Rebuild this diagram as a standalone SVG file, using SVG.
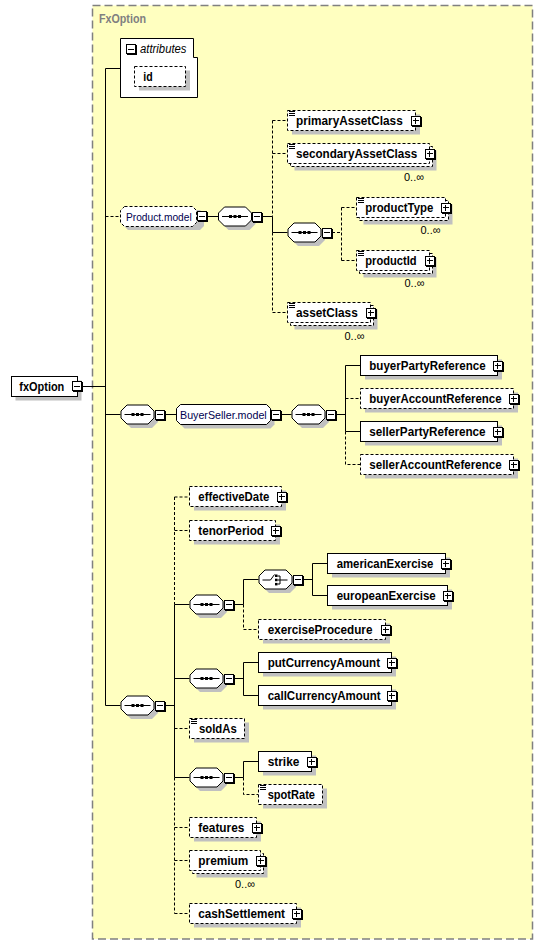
<svg xmlns="http://www.w3.org/2000/svg" xmlns:xlink="http://www.w3.org/1999/xlink" width="543" height="945" viewBox="0 0 543 945">
<style>
.box{fill:#fff;stroke:#000;stroke-width:1}
.dbox{fill:#fff;stroke:#000;stroke-width:1;stroke-dasharray:3,2}
.sh{fill:#c0c0c0;stroke:none}
.ln{stroke:#000;stroke-width:1;fill:none}
.dl{stroke:#000;stroke-width:1;fill:none;stroke-dasharray:3,2}
text{font-family:"Liberation Sans",Arial,sans-serif}
.t{font-size:12px;font-weight:bold;fill:#000}
.m{font-size:11.5px;fill:#000050}
.it{font-size:12px;font-style:italic;fill:#000}
.occ{font-size:11.5px;fill:#000}
.title{font-size:12px;font-weight:bold;fill:#808080}
</style>
<defs>
<g id="plus" shape-rendering="crispEdges">
<rect x="0.5" y="0.5" width="9" height="9" fill="#fff" stroke="#000"/>
<path d="M10.5,1V10.5H1" stroke="#000" fill="none"/>
<path d="M2,5H8M5,2V8" stroke="#000" fill="none"/>
</g>
<g id="minus" shape-rendering="crispEdges">
<rect x="0.5" y="0.5" width="9" height="9" fill="#fff" stroke="#000"/>
<path d="M10.5,1V10.5H1" stroke="#000" fill="none"/>
<path d="M2,5H8" stroke="#000" fill="none"/>
</g>
<path id="oct" d="M6.5,0.5H27.5L33.5,6.5V13.5L27.5,19.5H6.5L0.5,13.5V6.5Z"/>
<g id="seq">
<use xlink:href="#oct" x="4" y="4" fill="#c0c0c0"/>
<use xlink:href="#oct" fill="#fff" stroke="#000"/>
<path d="M4,10H30" stroke="#000" fill="none"/>
<rect x="11" y="8.5" width="3" height="3" fill="#000"/>
<rect x="15.5" y="8.5" width="3" height="3" fill="#000"/>
<rect x="20" y="8.5" width="3" height="3" fill="#000"/>
<use xlink:href="#minus" x="34" y="5"/>
</g>
<g id="choice">
<use xlink:href="#oct" x="4" y="4" fill="#c0c0c0"/>
<use xlink:href="#oct" fill="#fff" stroke="#000"/>
<path d="M4,10.5H12L16,5M19,6.5H21.5V14.5H19M19,10.5H29" stroke="#000" fill="none"/>
<rect x="16.5" y="5" width="2.5" height="2.5" fill="#000"/>
<rect x="16.5" y="9.2" width="2.5" height="2.5" fill="#000"/>
<rect x="16.5" y="13.4" width="2.5" height="2.5" fill="#000"/>
<use xlink:href="#minus" x="34" y="5"/>
</g>
<g id="doc" shape-rendering="crispEdges"><rect x="0.5" y="0.5" width="8" height="6" fill="#fff"/><path d="M1.5,1H7.5M1.5,3H7.5M1.5,5H7.5" stroke="#000" fill="none"/></g>
</defs>

<rect x="92.5" y="5.5" width="440" height="933.5" fill="#ffffc0" stroke="#808080" stroke-width="1.5" stroke-dasharray="8,4"/>
<text class="title" x="99" y="22.5" textLength="47" lengthAdjust="spacingAndGlyphs">FxOption</text>

<g id="connectors">
<path class="ln" d="M82,386.5H105.5M105.5,68.5V705.5M105.5,68.5H120.5"/>
<path class="dl" d="M105.5,216.5H120"/>
<path class="ln" d="M207,216.5H218M262,216.5H272.5"/>
<path class="dl" d="M272.5,120.5V216.5M272.5,232.5V312.5M272.5,120.5H287.5M272.5,153.5H287.5M272.5,312.5H287.5"/>
<path class="ln" d="M272.5,216.5V232.5H287.5"/>
<path class="dl" d="M332,232.5H341.5M341.5,207.5V260.5M341.5,207.5H356.5M341.5,260.5H356.5"/>
<path class="ln" d="M105.5,414.5H120.5M165,414.5H176.5M281,414.5H291.5M336,414.5H345.5M345.5,365.5V431.5M345.5,365.5H360.5M345.5,431.5H360.5"/>
<path class="dl" d="M345.5,398.5H360.5M345.5,431.5V464.5H360.5"/>
<path class="ln" d="M105.5,705.5H120.5M165,705.5H174.5M174.5,604.5V777.5M174.5,604.5H189.5M174.5,678.5H189.5M174.5,777.5H189.5"/>
<path class="dl" d="M174.5,497V604.5M174.5,777.5V913.5M174.5,497H189.5M174.5,530.5H189.5M174.5,728.5H189.5M174.5,827.5H189.5M174.5,860.5H189.5M174.5,913.5H189.5"/>
<path class="ln" d="M234,604.5H243.5M243.5,579.5V604.5M243.5,579.5H258.5M303,579.5H312.5M312.5,563.5V595.5M312.5,563.5H327.5M312.5,595.5H327.5"/>
<path class="dl" d="M243.5,604.5V629.5H258.5"/>
<path class="ln" d="M234,678.5H243.5M243.5,662.5V695.5M243.5,662.5H258.5M243.5,695.5H258.5"/>
<path class="ln" d="M234,777.5H243.5M243.5,761.5V777.5M243.5,761.5H258.5"/>
<path class="dl" d="M243.5,777.5V794.5H258.5"/>
</g>

<g id="attributes">
<path class="box" d="M120.5,38.5H193.5V57.5H197.5V97.5H120.5Z"/>
<use xlink:href="#minus" x="126" y="44"/>
<text class="it" x="140" y="52.5" textLength="46.5" lengthAdjust="spacingAndGlyphs">attributes</text>
</g>
<g id="id">
<rect class="sh" x="139" y="70.5" width="51" height="20"/>
<rect class="dbox" x="134.5" y="66.5" width="51" height="20"/>
<text class="t" x="143.3" y="81" textLength="9.4" lengthAdjust="spacingAndGlyphs">id</text>
</g>

<g id="fxOption">
<rect class="sh" x="15.5" y="380.5" width="66" height="20"/>
<rect class="box" x="11.5" y="376.5" width="66" height="20"/>
<text class="t" x="19.3" y="390.5" textLength="45" lengthAdjust="spacingAndGlyphs">fxOption</text>
<use xlink:href="#minus" x="72" y="381"/>
</g>

<g id="Product.model">
<path class="sh" d="M128,210H200L204,214V226L200,230H128L124,226V214Z"/>
<path class="dbox" d="M124.5,206.5H192.5L196.5,210.5V222.5L192.5,226.5H124.5L120.5,222.5V210.5Z"/>
<text class="m" x="126" y="220.5" textLength="65.7" lengthAdjust="spacingAndGlyphs">Product.model</text>
<use xlink:href="#minus" x="196.5" y="211"/>
</g>
<g id="seq1"><use xlink:href="#seq" x="218" y="206.5"/></g>

<g id="primaryAssetClass">
<rect class="sh" x="292" y="114.5" width="128" height="20"/>
<rect class="dbox" x="287.5" y="110.5" width="128" height="20"/>
<use xlink:href="#doc" x="287" y="110"/>
<text class="t" x="296" y="125" textLength="106.7" lengthAdjust="spacingAndGlyphs">primaryAssetClass</text>
<use xlink:href="#plus" x="410.5" y="115.5"/>
</g>
<g id="secondaryAssetClass">
<rect class="sh" x="294.5" y="150.5" width="142" height="20"/>
<rect class="dbox" x="290.5" y="146.5" width="142" height="20"/>
<rect class="dbox" x="287.5" y="143.5" width="142" height="20"/>
<use xlink:href="#doc" x="287" y="143"/>
<text class="t" x="296" y="158" textLength="121.3" lengthAdjust="spacingAndGlyphs">secondaryAssetClass</text>
<use xlink:href="#plus" x="424.5" y="148.5"/>
<text class="occ" x="404" y="180.5" textLength="20" lengthAdjust="spacingAndGlyphs">0..∞</text>
</g>
<g id="seq2"><use xlink:href="#seq" x="287.5" y="222.5"/></g>
<g id="productType">
<rect class="sh" x="363.5" y="204.5" width="89" height="20"/>
<rect class="dbox" x="359.5" y="200.5" width="89" height="20"/>
<rect class="dbox" x="356.5" y="197.5" width="89" height="20"/>
<use xlink:href="#doc" x="356" y="197"/>
<text class="t" x="365.3" y="212" textLength="68" lengthAdjust="spacingAndGlyphs">productType</text>
<use xlink:href="#plus" x="440.5" y="202.5"/>
<text class="occ" x="420.5" y="233.5" textLength="20" lengthAdjust="spacingAndGlyphs">0..∞</text>
</g>
<g id="productId">
<rect class="sh" x="363.5" y="257.5" width="73" height="20"/>
<rect class="dbox" x="359.5" y="253.5" width="73" height="20"/>
<rect class="dbox" x="356.5" y="250.5" width="73" height="20"/>
<use xlink:href="#doc" x="356" y="250"/>
<text class="t" x="365.3" y="265" textLength="51.3" lengthAdjust="spacingAndGlyphs">productId</text>
<use xlink:href="#plus" x="424.5" y="255.5"/>
<text class="occ" x="404.5" y="286.5" textLength="20" lengthAdjust="spacingAndGlyphs">0..∞</text>
</g>
<g id="assetClass">
<rect class="sh" x="294.5" y="309.5" width="83" height="20"/>
<rect class="dbox" x="290.5" y="305.5" width="83" height="20"/>
<rect class="dbox" x="287.5" y="302.5" width="83" height="20"/>
<use xlink:href="#doc" x="287" y="302"/>
<text class="t" x="296" y="317" textLength="61.7" lengthAdjust="spacingAndGlyphs">assetClass</text>
<use xlink:href="#plus" x="365.5" y="307.5"/>
<text class="occ" x="344.5" y="339.5" textLength="20" lengthAdjust="spacingAndGlyphs">0..∞</text>
</g>

<g id="seq3"><use xlink:href="#seq" x="120.5" y="404.5"/></g>
<g id="BuyerSeller.model">
<path class="sh" d="M184.5,408.5H270.5L274.5,412.5V424.5L270.5,428.5H184.5L180.5,424.5V412.5Z"/>
<path class="box" d="M180.5,404.5H266.5L270.5,408.5V420.5L266.5,424.5H180.5L176.5,420.5V408.5Z"/>
<text class="m" x="180" y="418.5" textLength="86.7" lengthAdjust="spacingAndGlyphs">BuyerSeller.model</text>
<use xlink:href="#minus" x="270.5" y="409.5"/>
</g>
<g id="seq4"><use xlink:href="#seq" x="291.5" y="404.5"/></g>
<g id="buyerPartyReference">
<rect class="sh" x="365" y="359.5" width="137" height="20"/>
<rect class="box" x="360.5" y="355.5" width="137" height="20"/>
<text class="t" x="369.3" y="369.5" textLength="116.3" lengthAdjust="spacingAndGlyphs">buyerPartyReference</text>
<use xlink:href="#plus" x="492.5" y="360.5"/>
</g>
<g id="buyerAccountReference">
<rect class="sh" x="365" y="392.5" width="153" height="20"/>
<rect class="dbox" x="360.5" y="388.5" width="153" height="20"/>
<text class="t" x="369.3" y="402.5" textLength="132.3" lengthAdjust="spacingAndGlyphs">buyerAccountReference</text>
<use xlink:href="#plus" x="508.5" y="393.5"/>
</g>
<g id="sellerPartyReference">
<rect class="sh" x="365" y="425.5" width="137" height="20"/>
<rect class="box" x="360.5" y="421.5" width="137" height="20"/>
<text class="t" x="369.3" y="435.5" textLength="116.3" lengthAdjust="spacingAndGlyphs">sellerPartyReference</text>
<use xlink:href="#plus" x="492.5" y="426.5"/>
</g>
<g id="sellerAccountReference">
<rect class="sh" x="365" y="458.5" width="153" height="20"/>
<rect class="dbox" x="360.5" y="454.5" width="153" height="20"/>
<text class="t" x="369.3" y="468.5" textLength="132.3" lengthAdjust="spacingAndGlyphs">sellerAccountReference</text>
<use xlink:href="#plus" x="508.5" y="459.5"/>
</g>

<g id="seq5"><use xlink:href="#seq" x="120.5" y="695.5"/></g>
<g id="effectiveDate">
<rect class="sh" x="194" y="490.5" width="92" height="20"/>
<rect class="dbox" x="189.5" y="486.5" width="92" height="20"/>
<text class="t" x="198.3" y="501" textLength="71" lengthAdjust="spacingAndGlyphs">effectiveDate</text>
<use xlink:href="#plus" x="276.5" y="491.5"/>
</g>
<g id="tenorPeriod">
<rect class="sh" x="194" y="524.5" width="86" height="20"/>
<rect class="dbox" x="189.5" y="520.5" width="86" height="20"/>
<text class="t" x="198.3" y="534.5" textLength="65.7" lengthAdjust="spacingAndGlyphs">tenorPeriod</text>
<use xlink:href="#plus" x="270.5" y="525.5"/>
</g>
<g id="seq6"><use xlink:href="#seq" x="189.5" y="594.5"/></g>
<g id="choice1"><use xlink:href="#choice" x="258.5" y="569.5"/></g>
<g id="americanExercise">
<rect class="sh" x="332" y="557.5" width="118" height="20"/>
<rect class="box" x="327.5" y="553.5" width="118" height="20"/>
<text class="t" x="336.7" y="567.5" textLength="96.7" lengthAdjust="spacingAndGlyphs">americanExercise</text>
<use xlink:href="#plus" x="440.5" y="558.5"/>
</g>
<g id="europeanExercise">
<rect class="sh" x="332" y="589.5" width="120" height="20"/>
<rect class="box" x="327.5" y="585.5" width="120" height="20"/>
<text class="t" x="336.7" y="599.5" textLength="99" lengthAdjust="spacingAndGlyphs">europeanExercise</text>
<use xlink:href="#plus" x="442.5" y="590.5"/>
</g>
<g id="exerciseProcedure">
<rect class="sh" x="263" y="623.5" width="127" height="20"/>
<rect class="dbox" x="258.5" y="619.5" width="127" height="20"/>
<text class="t" x="267.7" y="633.5" textLength="104.7" lengthAdjust="spacingAndGlyphs">exerciseProcedure</text>
<use xlink:href="#plus" x="380.5" y="624.5"/>
</g>
<g id="seq7"><use xlink:href="#seq" x="189.5" y="668.5"/></g>
<g id="putCurrencyAmount">
<rect class="sh" x="263" y="656.5" width="133" height="20"/>
<rect class="box" x="258.5" y="652.5" width="133" height="20"/>
<text class="t" x="267.7" y="666.5" textLength="112.3" lengthAdjust="spacingAndGlyphs">putCurrencyAmount</text>
<use xlink:href="#plus" x="386.5" y="657.5"/>
</g>
<g id="callCurrencyAmount">
<rect class="sh" x="263" y="689.5" width="133" height="20"/>
<rect class="box" x="258.5" y="685.5" width="133" height="20"/>
<text class="t" x="267.7" y="699.5" textLength="113" lengthAdjust="spacingAndGlyphs">callCurrencyAmount</text>
<use xlink:href="#plus" x="386.5" y="690.5"/>
</g>
<g id="soldAs">
<rect class="sh" x="194" y="722.5" width="55" height="20"/>
<rect class="dbox" x="189.5" y="718.5" width="55" height="20"/>
<use xlink:href="#doc" x="189" y="718"/>
<text class="t" x="199" y="732.5" textLength="37.7" lengthAdjust="spacingAndGlyphs">soldAs</text>
</g>
<g id="seq8"><use xlink:href="#seq" x="189.5" y="767.5"/></g>
<g id="strike">
<rect class="sh" x="263" y="755.5" width="53" height="20"/>
<rect class="box" x="258.5" y="751.5" width="53" height="20"/>
<text class="t" x="267.7" y="765.5" textLength="31.7" lengthAdjust="spacingAndGlyphs">strike</text>
<use xlink:href="#plus" x="306.5" y="756.5"/>
</g>
<g id="spotRate">
<rect class="sh" x="263" y="788.5" width="64" height="20"/>
<rect class="dbox" x="258.5" y="784.5" width="64" height="20"/>
<use xlink:href="#doc" x="258" y="784"/>
<text class="t" x="267.7" y="799" textLength="47.3" lengthAdjust="spacingAndGlyphs">spotRate</text>
</g>
<g id="features">
<rect class="sh" x="194" y="821.5" width="67" height="20"/>
<rect class="dbox" x="189.5" y="817.5" width="67" height="20"/>
<text class="t" x="198.3" y="831.5" textLength="46" lengthAdjust="spacingAndGlyphs">features</text>
<use xlink:href="#plus" x="251.5" y="822.5"/>
</g>
<g id="premium">
<rect class="sh" x="196.5" y="857.5" width="71" height="20"/>
<rect class="dbox" x="192.5" y="853.5" width="71" height="20"/>
<rect class="dbox" x="189.5" y="850.5" width="71" height="20"/>
<text class="t" x="198.3" y="864.5" textLength="50" lengthAdjust="spacingAndGlyphs">premium</text>
<use xlink:href="#plus" x="255.5" y="855.5"/>
<text class="occ" x="235" y="887.5" textLength="20" lengthAdjust="spacingAndGlyphs">0..∞</text>
</g>
<g id="cashSettlement">
<rect class="sh" x="194" y="907.5" width="107" height="20"/>
<rect class="dbox" x="189.5" y="903.5" width="107" height="20"/>
<text class="t" x="198.3" y="917.5" textLength="86.7" lengthAdjust="spacingAndGlyphs">cashSettlement</text>
<use xlink:href="#plus" x="291.5" y="908.5"/>
</g>
</svg>
